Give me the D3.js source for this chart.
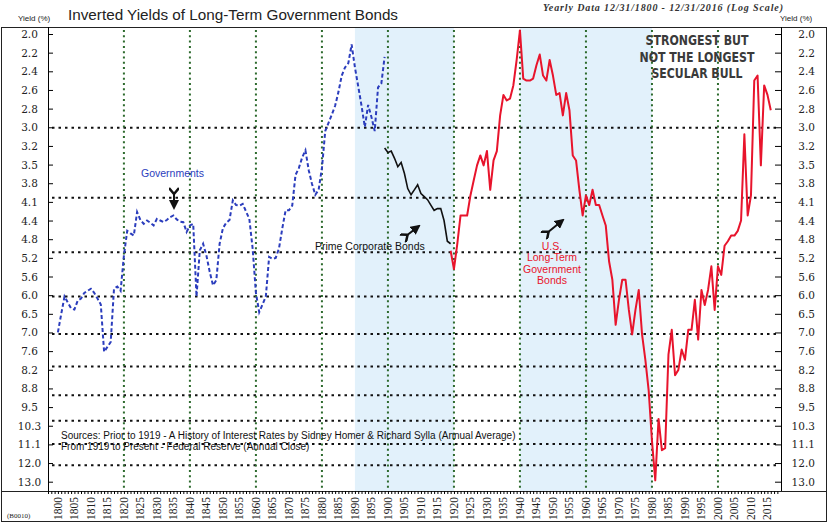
<!DOCTYPE html>
<html>
<head>
<meta charset="utf-8">
<script src="https://cdn.jsdelivr.net/npm/d3@7"></script>
<style>
  body { margin: 0; background: #fff; }
  svg { display: block; }
</style>
</head>
<body>
<div id="chart"></div>
<script>
const WIDTH = 830
const HEIGHT = 527
const LEFT = 48
const RIGHT = 781
const TOP = 27
const BOTTOM = 491

// tick labels of the yield axis (equal steps on the log scale, from 2.04 to 12.84)
const yTickLabels = ['2.0', '2.2', '2.4', '2.6', '2.8', '3.0', '3.2', '3.5', '3.8', '4.1', '4.4', '4.8', '5.2',
  '5.6', '6.0', '6.5', '7.0', '7.6', '8.2', '8.8', '9.5', '10.3', '11.1', '12.0', '13.0']
const yTickRange = [2.04, 12.84]
const gridYields = [3, 4, 5, 6, 7, 8, 9, 10, 11, 12]
const gridYears = [1820, 1840, 1860, 1880, 1900, 1920, 1940, 1960, 1980, 2000]
const bands = [[1890, 1920], [1940, 1980]]

// Governments, 1800 - 1899
const govStart = 1800
const govYields = [6.95, 6.45, 6.0, 6.15, 6.3, 6.33, 6.1, 6.05, 5.91, 5.86,
  5.81, 5.91, 6.05, 6.2, 7.53, 7.38, 7.23, 5.81, 5.76, 5.86,
  5.07, 4.58, 4.63, 4.67, 4.24, 4.38, 4.45, 4.39, 4.43, 4.48,
  4.36, 4.39, 4.42, 4.38, 4.33, 4.3, 4.37, 4.41, 4.42, 4.6,
  4.48, 4.45, 6.0, 4.96, 4.83, 5.07, 5.42, 5.73, 5.61, 4.83,
  4.53, 4.43, 4.38, 4.04, 4.12, 4.13, 4.1, 4.23, 4.36, 4.92,
  5.91, 6.4, 6.2, 6.0, 5.1, 5.14, 5.12, 4.92, 4.53, 4.21,
  4.21, 4.13, 3.64, 3.54, 3.39, 3.29, 3.57, 3.78, 3.95, 3.87,
  3.54, 3.04, 2.94, 2.84, 2.74, 2.59, 2.42, 2.34, 2.3, 2.13,
  2.34, 2.53, 2.74, 2.99, 2.73, 2.87, 3.04, 2.54, 2.5, 2.24]

// Prime Corporate Bonds, 1899 - 1919
const corpStart = 1899
const corpYields = [3.26, 3.32, 3.3, 3.4, 3.52, 3.46, 3.62, 3.85, 3.95, 3.87,
  3.79, 3.93, 3.98, 4.03, 4.12, 4.21, 4.18, 4.18, 4.39, 4.78, 4.83]

// U.S. Long-Term Government Bonds, 1919 - 2016
const usStart = 1919
const usYields = [4.97, 5.36, 4.84, 4.3, 4.3, 4.3, 3.96, 3.72, 3.5, 3.36,
  3.5, 3.3, 3.87, 3.43, 3.3, 2.85, 2.62, 2.68, 2.66, 2.52,
  2.27, 2.01, 2.45, 2.47, 2.47, 2.45, 2.32, 2.22, 2.42, 2.47,
  2.27, 2.42, 2.62, 2.6, 2.85, 2.6, 2.79, 3.36, 3.43, 3.87,
  4.3, 3.96, 4.12, 3.87, 4.12, 4.12, 4.3, 4.48, 5.19, 5.6,
  6.74, 6.08, 5.6, 5.6, 6.34, 7.01, 6.34, 5.84, 7.01, 7.78,
  8.82, 10.84, 12.77, 9.92, 11.28, 11.19, 7.62, 6.88, 8.29, 8.11,
  7.46, 7.78, 6.88, 6.88, 6.08, 7.16, 5.84, 6.21, 5.84, 5.3,
  6.34, 5.3, 5.49, 4.87, 4.78, 4.67, 4.67, 4.58, 4.39, 3.08,
  4.3, 3.96, 2.47, 2.42, 3.5, 2.52, 2.62, 2.79]

const toPoints = (start, vals) => vals.map((v, i) => ({ year: start + i, v }))
const gov = toPoints(govStart, govYields)
const corp = toPoints(corpStart, corpYields)
const us = toPoints(usStart, usYields)

const svg = d3.select('#chart').append('svg').attr('width', WIDTH).attr('height', HEIGHT)

const x = d3.scaleLinear().domain([1797, 2019.1]).range([LEFT, RIGHT])
// inverted log scale : low yields on top
const y = d3.scaleLog().domain(yTickRange).range([34, 481.7])
const yTicks = yTickLabels.map((d, i) => yTickRange[0] * Math.pow(yTickRange[1] / yTickRange[0], i / 24))

const defs = svg.append('defs')
defs.append('clipPath').attr('id', 'plot')
  .append('rect').attr('x', LEFT).attr('y', TOP).attr('width', RIGHT - LEFT).attr('height', BOTTOM - TOP)

// shaded periods
svg.append('g').selectAll('rect')
  .data(bands)
  .enter()
  .append('rect')
  .attr('x', d => x(d[0]))
  .attr('y', TOP)
  .attr('width', d => x(d[1]) - x(d[0]))
  .attr('height', BOTTOM - TOP)
  .attr('fill', '#e2f1fb')

// grid
svg.append('g').selectAll('line')
  .data(gridYields)
  .enter()
  .append('line')
  .attr('x1', LEFT + 4).attr('x2', RIGHT - 4)
  .attr('y1', d => y(d)).attr('y2', d => y(d))
  .attr('stroke', '#111').attr('stroke-width', 2)
  .attr('stroke-dasharray', '2.5,4')

svg.append('g').selectAll('line')
  .data(gridYears)
  .enter()
  .append('line')
  .attr('x1', d => x(d)).attr('x2', d => x(d))
  .attr('y1', TOP + 3).attr('y2', BOTTOM)
  .attr('stroke', '#2d6a2d').attr('stroke-width', 2)
  .attr('stroke-dasharray', '2,3.3')

// series
const line = d3.line().x(d => x(d.year)).y(d => y(d.v))
const plot = svg.append('g').attr('clip-path', 'url(#plot)')

plot.append('path').datum(gov)
  .attr('d', line).attr('fill', 'none')
  .attr('stroke', '#2b3dbd').attr('stroke-width', 2)
  .attr('stroke-dasharray', '4,2.5')

plot.append('path').datum(corp)
  .attr('d', line).attr('fill', 'none')
  .attr('stroke', '#111').attr('stroke-width', 1.6)

plot.append('path').datum(us)
  .attr('d', line).attr('fill', 'none')
  .attr('stroke', '#e8142c').attr('stroke-width', 2)
  .attr('stroke-linejoin', 'round')

// frame
svg.append('rect').attr('x', 1.5).attr('y', TOP + 0.5).attr('width', 825).attr('height', 494)
  .attr('fill', 'none').attr('stroke', '#222')
svg.append('line').attr('x1', 1.5).attr('x2', 826.5).attr('y1', BOTTOM + 0.5).attr('y2', BOTTOM + 0.5)
  .attr('stroke', '#222')

// y axes, ticks pointing inside
const axisL = d3.axisRight(y).tickValues(yTicks).tickSize(5).tickFormat(() => '')
svg.append('g').attr('transform', `translate(${LEFT}, 0)`).call(axisL)
  .call(g => g.select('.domain').attr('d', `M0.5,${TOP}V${BOTTOM}`))
const axisR = d3.axisLeft(y).tickValues(yTicks).tickSize(6).tickFormat(() => '')
svg.append('g').attr('transform', `translate(${RIGHT}, 0)`).call(axisR)
  .call(g => g.select('.domain').attr('d', `M0.5,${TOP}V${BOTTOM}`))

svg.append('g').selectAll('text')
  .data(yTicks)
  .enter()
  .append('text')
  .attr('x', 29.5).attr('y', d => y(d) + 4)
  .attr('text-anchor', 'middle')
  .attr('font-family', 'DejaVu Serif').attr('font-size', 10.5)
  .attr('fill', '#222')
  .text((d, i) => yTickLabels[i])

svg.append('g').selectAll('text')
  .data(yTicks)
  .enter()
  .append('text')
  .attr('x', 815).attr('y', d => y(d) + 4)
  .attr('text-anchor', 'end')
  .attr('font-family', 'DejaVu Serif').attr('font-size', 10.5)
  .attr('fill', '#222')
  .text((d, i) => yTickLabels[i])

// x axis: yearly ticks, labels every 5 years
const axisX = d3.axisBottom(x).tickValues(d3.range(1797, 2019)).tickSize(3).tickFormat(() => '')
svg.append('g').attr('transform', `translate(0, ${BOTTOM})`).call(axisX)
  .call(g => g.select('.domain').remove())

svg.append('g').selectAll('text')
  .data(d3.range(1800, 2016, 5))
  .enter()
  .append('text')
  .attr('transform', d => `translate(${x(d) + 4}, 497) rotate(-90)`)
  .attr('text-anchor', 'end')
  .attr('font-family', 'Liberation Serif').attr('font-size', 11.5)
  .attr('fill', '#222')
  .text(d => d)

// titles
svg.append('text').attr('x', 68).attr('y', 20)
  .attr('font-family', 'Liberation Sans').attr('font-size', 15).attr('fill', '#222')
  .attr('textLength', 330).attr('lengthAdjust', 'spacingAndGlyphs')
  .text('Inverted Yields of Long-Term Government Bonds')
svg.append('text').attr('x', 543).attr('y', 11)
  .attr('font-family', 'Liberation Serif').attr('font-style', 'italic').attr('font-weight', 'bold')
  .attr('font-size', 10).attr('fill', '#333')
  .attr('textLength', 240).attr('lengthAdjust', 'spacing')
  .text('Yearly Data 12/31/1800 - 12/31/2016 (Log Scale)')
svg.append('text').attr('x', 18).attr('y', 21)
  .attr('font-family', 'Liberation Sans').attr('font-size', 8).attr('fill', '#222')
  .text('Yield (%)')
svg.append('text').attr('x', 780).attr('y', 21)
  .attr('font-family', 'Liberation Sans').attr('font-size', 8).attr('fill', '#222')
  .text('Yield (%)')

// headline
const bull = ['STRONGEST BUT', 'NOT THE LONGEST', 'SECULAR BULL']
const bullW = [103, 115, 91]
svg.append('g').selectAll('text')
  .data(bull)
  .enter()
  .append('text')
  .attr('x', 697).attr('y', (d, i) => 45 + i * 16.5)
  .attr('text-anchor', 'middle')
  .attr('font-family', 'Liberation Sans Narrow, DejaVu Sans Condensed, sans-serif')
  .attr('font-weight', 'bold').attr('font-size', 14).attr('fill', '#3a3a3a')
  .attr('textLength', (d, i) => bullW[i]).attr('lengthAdjust', 'spacingAndGlyphs')
  .text(d => d)

// series labels
svg.append('text').attr('x', 141).attr('y', 177)
  .attr('font-family', 'Liberation Sans').attr('font-size', 10.5).attr('fill', '#2b3dbd')
  .text('Governments')
svg.append('text').attr('x', 315).attr('y', 250)
  .attr('font-family', 'Liberation Sans').attr('font-size', 10.5).attr('fill', '#111')
  .text('Prime Corporate Bonds')
svg.append('g').selectAll('text')
  .data(['U.S.', 'Long-Term', 'Government', 'Bonds'])
  .enter()
  .append('text')
  .attr('x', 552).attr('y', (d, i) => 250 + i * 11.3)
  .attr('text-anchor', 'middle')
  .attr('font-family', 'Liberation Sans').attr('font-size', 10.5).attr('fill', '#e8142c')
  .text(d => d)

// arrows
defs.append('marker').attr('id', 'head').attr('viewBox', '0 0 10 10')
  .attr('refX', 8).attr('refY', 5).attr('markerWidth', 5).attr('markerHeight', 5)
  .attr('orient', 'auto')
  .append('path').attr('d', 'M0,0L10,5L0,10z').attr('fill', '#111')
defs.append('marker').attr('id', 'tail').attr('viewBox', '0 0 10 10')
  .attr('refX', 6).attr('refY', 5).attr('markerWidth', 5).attr('markerHeight', 5)
  .attr('orient', 'auto')
  .append('path').attr('d', 'M8,5L2,0M8,5L2,10').attr('stroke', '#111').attr('stroke-width', 2.5).attr('fill', 'none')

const arrows = [[174, 192, 174, 208], [406, 236, 419, 226], [547, 233, 563, 220]]
svg.append('g').selectAll('line')
  .data(arrows)
  .enter()
  .append('line')
  .attr('x1', d => d[0]).attr('y1', d => d[1]).attr('x2', d => d[2]).attr('y2', d => d[3])
  .attr('stroke', '#111').attr('stroke-width', 2)
  .attr('marker-end', 'url(#head)').attr('marker-start', 'url(#tail)')

// sources
svg.append('text').attr('x', 61).attr('y', 439)
  .attr('font-family', 'Liberation Sans').attr('font-size', 10).attr('fill', '#111')
  .text('Sources: Prior to 1919 - A History of Interest Rates by Sidney Homer & Richard Sylla (Annual Average)')
svg.append('text').attr('x', 61).attr('y', 450)
  .attr('font-family', 'Liberation Sans').attr('font-size', 10).attr('fill', '#111')
  .text('From 1919 to Present - Federal Reserve (Annual Close)')
svg.append('text').attr('x', 7).attr('y', 518)
  .attr('font-family', 'Liberation Serif').attr('font-size', 7).attr('fill', '#222')
  .text('(B0010)')
</script>
</body>
</html>
